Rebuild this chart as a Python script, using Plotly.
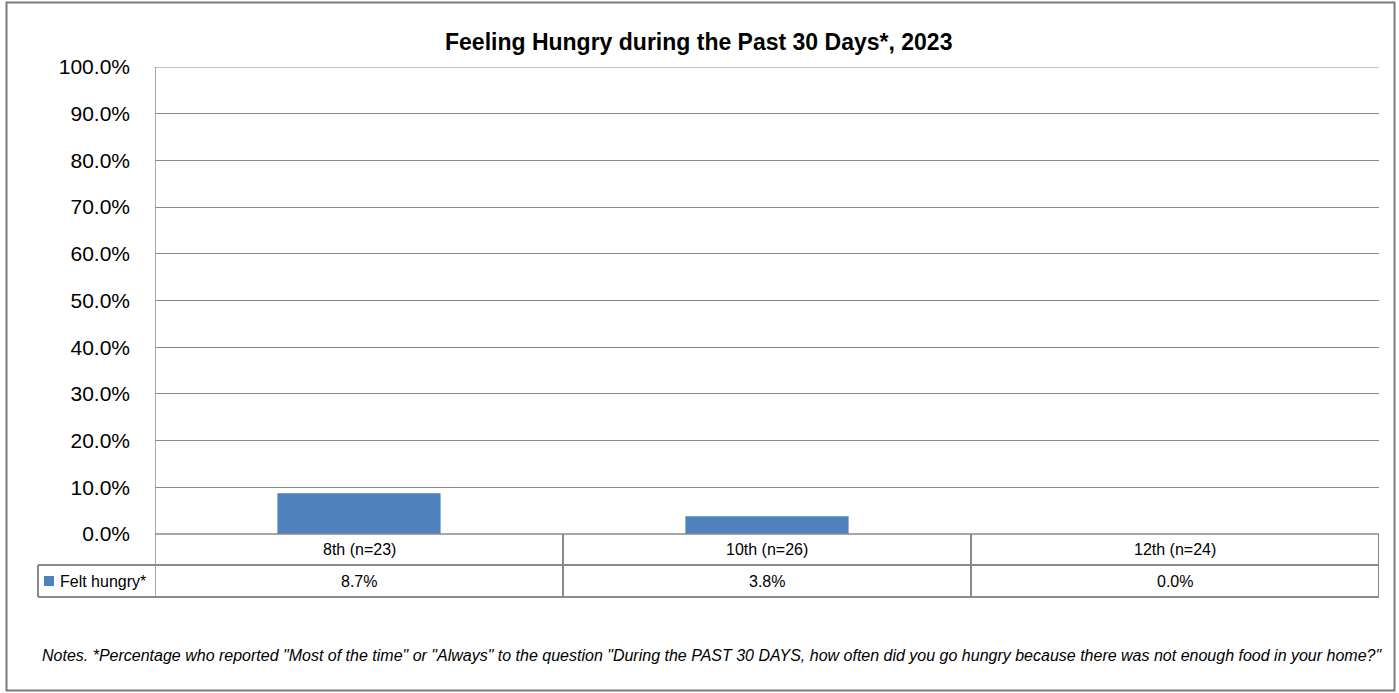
import plotly.graph_objects as go

# Chart data
categories = ["8th (n=23)", "10th (n=26)", "12th (n=24)"]
felt_hungry = [8.7, 3.8, 0.0]
series_name = "Felt hungry*"
tick_values = [0, 10, 20, 30, 40, 50, 60, 70, 80, 90, 100]
tick_labels = [f"{v:.1f}%" for v in tick_values]
title_text = "Feeling Hungry during the Past 30 Days*, 2023"
notes_text = ('Notes. *Percentage who reported "Most of the time" or "Always" to the question '
              '"During the PAST 30 DAYS, how often did you go hungry because there was not enough food in your home?"')

W, H = 1399, 693
ML, MR, MT, MB = 155, 20, 67, 159
PW = W - ML - MR
PH = H - MT - MB

FONT = "Liberation Sans, Arial, sans-serif"
BAR = "#4f81bd"
LINE = "#8a8a8a"


def py(pixel_y):
    # pixel row -> paper y
    return (H - MB - pixel_y) / PH


def px(pixel_x):
    # pixel column -> paper x
    return (pixel_x - ML) / PW


xs = list(range(len(categories)))

fig = go.Figure()
fig.add_trace(go.Bar(
    x=xs, y=felt_hungry, width=0.4, marker=dict(color=BAR, line=dict(width=0)),
    name=series_name, showlegend=False, hoverinfo="skip",
))

shapes = []
# top edge of the plot area
shapes.append(dict(type="line", xref="paper", yref="y", x0=0, x1=1, y0=100, y1=100,
                   line=dict(color=LINE, width=1)))
# table rows under the axis
row1, row2 = py(565), py(597)
for yv in (row1, row2):
    shapes.append(dict(type="line", xref="paper", yref="paper", x0=px(38), x1=1, y0=yv, y1=yv,
                       line=dict(color=LINE, width=2)))
shapes.append(dict(type="line", xref="paper", yref="paper", x0=0, x1=1, y0=0, y1=0,
                   line=dict(color=LINE, width=1.5)))
# vertical column separators
for b in [-0.5, 0.5, 1.5, 2.5]:
    shapes.append(dict(type="line", xref="x", yref="paper", x0=b, x1=b,
                       y0=row2, y1=1 if b == -0.5 else 0,
                       line=dict(color=LINE, width=2 if b != -0.5 else 1.5)))
# legend cell left edge
shapes.append(dict(type="line", xref="paper", yref="paper", x0=px(38), x1=px(38), y0=row1, y1=row2,
                   line=dict(color=LINE, width=2)))
# legend key
shapes.append(dict(type="rect", xref="paper", yref="paper", x0=px(44), x1=px(54), y0=py(586), y1=py(576),
                   fillcolor=BAR, line=dict(width=0)))
# outer chart border
shapes.append(dict(type="rect", xref="paper", yref="paper", x0=px(6.5), x1=px(1394.5), y0=py(2.5), y1=py(690.5),
                   line=dict(color="#7a7a7a", width=2), layer="below"))

annotations = [
    dict(text=f"<b>{title_text}</b>", xref="paper", yref="paper", x=px(698), y=py(42),
         showarrow=False, font=dict(family=FONT, size=23, color="#000"), xanchor="center", yanchor="middle"),
    dict(text=f"<i>{notes_text}</i>", xref="paper", yref="paper", x=px(712), y=py(655),
         showarrow=False, font=dict(family=FONT, size=16, color="#000"), xanchor="center", yanchor="middle"),
    dict(text=series_name, xref="paper", yref="paper", x=px(58), y=py(581),
         showarrow=False, font=dict(family=FONT, size=16, color="#000"), xanchor="left", yanchor="middle"),
]
for i, (c, v) in enumerate(zip(categories, felt_hungry)):
    annotations.append(dict(text=c, xref="x", yref="paper", x=i, y=py(549), showarrow=False,
                            font=dict(family=FONT, size=16, color="#000"), yanchor="middle"))
    annotations.append(dict(text=f"{v:.1f}%", xref="x", yref="paper", x=i, y=py(581), showarrow=False,
                            font=dict(family=FONT, size=16, color="#000"), yanchor="middle"))

fig.update_layout(
    width=W, height=H,
    margin=dict(l=ML, r=MR, t=MT, b=MB, autoexpand=False),
    paper_bgcolor="white", plot_bgcolor="white",
    bargap=0.6,
    xaxis=dict(range=[-0.5, 2.5], showticklabels=False, showgrid=False, zeroline=False,
               showline=False, fixedrange=True),
    yaxis=dict(range=[0, 100], tickvals=tick_values, ticktext=tick_labels,
               showgrid=True, gridcolor=LINE, gridwidth=1, zeroline=False,
               showline=False, ticks="", ticklabelstandoff=24,
               tickfont=dict(family=FONT, size=21, color="#000"), fixedrange=True),
    shapes=shapes, annotations=annotations,
    showlegend=False,
)

fig.write_html("out.html", config={"displayModeBar": False})
